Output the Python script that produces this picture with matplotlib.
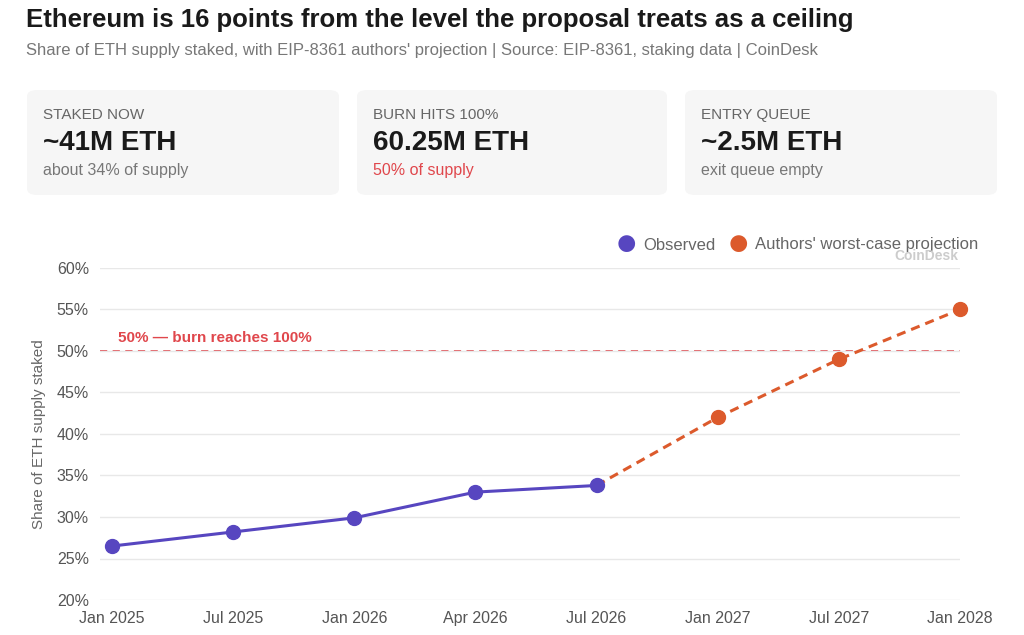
import matplotlib
matplotlib.use("Agg")
import matplotlib.pyplot as plt
from matplotlib.patches import FancyBboxPatch

labels = ["Jan 2025", "Jul 2025", "Jan 2026", "Apr 2026", "Jul 2026", "Jan 2027", "Jul 2027", "Jan 2028"]
observed = [26.5, 28.2, 29.9, 33.0, 33.8]
projection = [33.8, 42.0, 49.0, 55.0]
proj_start = 4
ceiling = 50
yticks = [20, 25, 30, 35, 40, 45, 50, 55, 60]

plt.rcParams['font.family'] = ['Liberation Sans', 'DejaVu Sans']
W, H = 1024, 635
fig = plt.figure(figsize=(W/100, H/100), dpi=100)
fig.patch.set_facecolor("white")

fig.text(26/W, 1-20/H, "Ethereum is 16 points from the level the proposal treats as a ceiling",
         fontsize=18.5, fontweight="bold", color="#1a1a1a", va="center")
fig.text(26/W, 1-51/H, "Share of ETH supply staked, with EIP-8361 authors' projection | Source: EIP-8361, staking data | CoinDesk",
         fontsize=12, color="#777777", va="center")

cards = [(27, 339, "STAKED NOW", "~41M ETH", "about 34% of supply", "#777777"),
         (357, 667, "BURN HITS 100%", "60.25M ETH", "50% of supply", "#e0474c"),
         (685, 997, "ENTRY QUEUE", "~2.5M ETH", "exit queue empty", "#777777")]
for x0, x1, t, v, s, c in cards:
    fig.patches.append(FancyBboxPatch((x0/W, 1-195/H), (x1-x0)/W, 105/H,
        boxstyle="round,pad=0,rounding_size=0.01", transform=fig.transFigure,
        facecolor="#f6f6f6", edgecolor="none"))
    fig.text((x0+16)/W, 1-115/H, t, fontsize=11, color="#666666", va="center")
    fig.text((x0+16)/W, 1-143/H, v, fontsize=20, fontweight="bold", color="#1a1a1a", va="center")
    fig.text((x0+16)/W, 1-170/H, s, fontsize=11.5, color=c, va="center")

ax = fig.add_axes([100/W, 1-600/H, 860/W, 332/H])
x = list(range(len(labels)))
blue, orange = "#5746c0", "#dc5a2c"
ax.plot(x[:len(observed)], observed, color=blue, lw=2.2, marker="o", ms=10, zorder=3, clip_on=False)
ax.plot(x[proj_start:proj_start+len(projection)], projection, color=orange, lw=2.2, ls=(0, (3, 2)), zorder=2, clip_on=False)
ax.plot(x[proj_start+1:proj_start+len(projection)], projection[1:], color=orange, lw=0, marker="o", ms=10, zorder=3, clip_on=False)
ax.axhline(ceiling, color="#e0474c", lw=1.3, ls=(0, (4, 3)), zorder=1)
ax.text(0.05, ceiling+0.7, "50% — burn reaches 100%", color="#e0474c", fontsize=11, fontweight="bold", va="bottom")

ax.set_xlim(-0.1, 7.0)
ax.set_ylim(20, 60)
ax.set_yticks(yticks)
ax.set_yticklabels([f"{v}%" for v in yticks], fontsize=11.5, color="#555555")
ax.set_xticks(x)
ax.set_xticklabels(labels, fontsize=11.5, color="#555555")
ax.tick_params(length=0, pad=8)
ax.grid(axis="y", color="#e8e8e8", lw=1)
for sp in ax.spines.values():
    sp.set_visible(False)
ax.set_ylabel("Share of ETH supply staked", fontsize=11, color="#666666", labelpad=8)

fig.text(626/W, 1-245/H, "●", fontsize=28, color=blue, va="center", ha="center")
fig.text(643/W, 1-245/H, "Observed", fontsize=12, color="#666666", va="center")
fig.text(738/W, 1-245/H, "●", fontsize=28, color=orange, va="center", ha="center")
fig.text(755/W, 1-245/H, "Authors' worst-case projection", fontsize=12, color="#666666", va="center")
fig.text(958/W, 1-256/H, "CoinDesk", fontsize=10, color="#cccccc", va="center", ha="right", fontweight="bold")

fig.savefig("out.png", dpi=100)
